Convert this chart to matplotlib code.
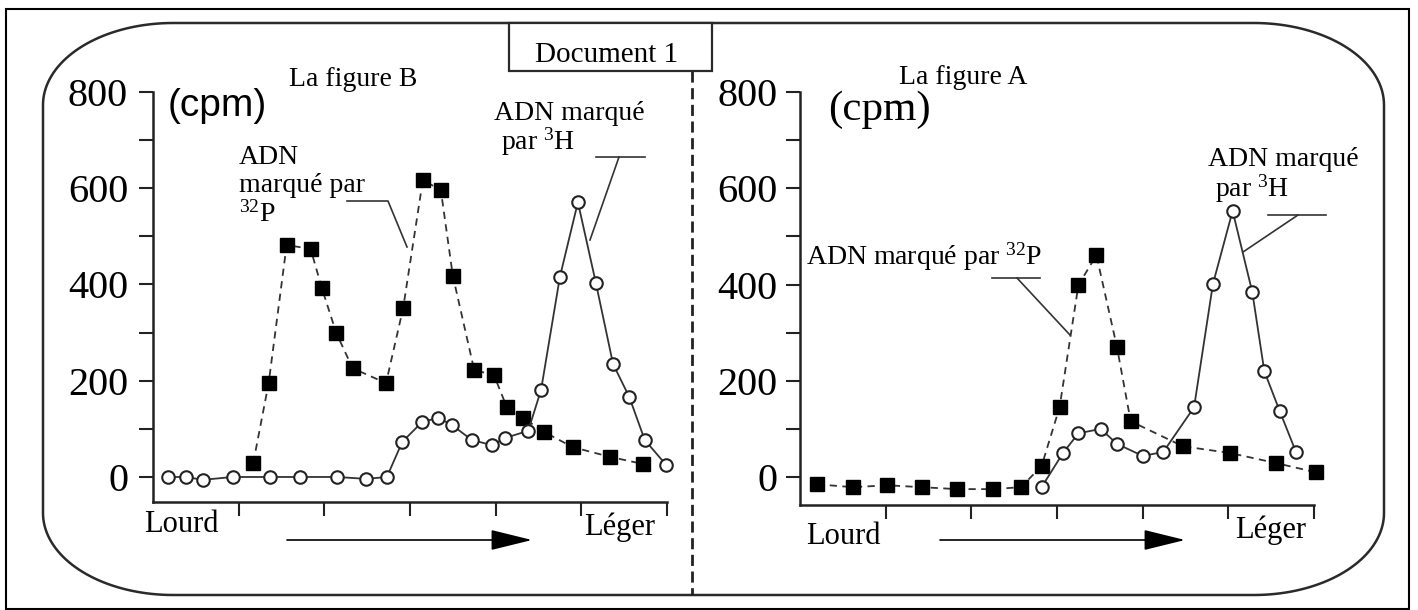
import numpy as np
import matplotlib

matplotlib.use("Agg")
import matplotlib.pyplot as plt
from matplotlib.patches import Rectangle, Polygon

W, H = 1418, 610
SERIF = "Liberation Serif"
SANS = "Liberation Sans"
INK = "#333333"
plt.rcParams["mathtext.fontset"] = "custom"
plt.rcParams["mathtext.rm"] = SERIF
plt.rcParams["mathtext.it"] = SERIF + ":italic"
plt.rcParams["mathtext.default"] = "rm"

# --- data (x: position along the gradient, y: cpm) ----------------------------------------------
b_h3_x = [0.18, 0.39, 0.58, 0.93, 1.37, 1.72, 2.15, 2.49, 2.73, 2.91, 3.14, 3.33, 3.49, 3.72, 3.96,
          4.11, 4.38, 4.53, 4.75, 4.96, 5.17, 5.37, 5.56, 5.74, 5.99]
b_h3_y = [0, 0, -6, 0, 0, 0, 0, -4, 0, 73, 114, 123, 108, 77, 66, 81, 96, 181, 416, 571, 403, 235,
          166, 77, 25]
b_p32_x = [1.17, 1.35, 1.56, 1.84, 1.97, 2.14, 2.33, 2.72, 2.92, 3.15, 3.36, 3.50, 3.75, 3.98, 4.13,
           4.32, 4.56, 4.90, 5.33, 5.72]
b_p32_y = [29, 195, 482, 474, 393, 299, 226, 195, 351, 617, 596, 418, 222, 212, 145, 123, 94, 62, 42, 27]

a_p32_x = [0.20, 0.62, 1.02, 1.42, 1.83, 2.25, 2.58, 2.82, 3.03, 3.25, 3.46, 3.70, 3.86, 4.47, 5.02,
           5.56, 6.02]
a_p32_y = [-15, -21, -17, -21, -25, -25, -21, 23, 145, 399, 461, 270, 116, 64, 50, 29, 10]
a_h3_x = [2.82, 3.07, 3.25, 3.51, 3.70, 4.00, 4.24, 4.60, 4.82, 5.05, 5.28, 5.42, 5.60, 5.79]
a_h3_y = [-21, 50, 91, 100, 69, 44, 52, 145, 401, 553, 384, 220, 137, 52]

y_labels = [0, 200, 400, 600, 800]

fig = plt.figure(figsize=(W / 100, H / 100), dpi=100)

# background overlay in pixel coordinates for the frame, captions and arrows
bg = fig.add_axes([0, 0, 1, 1])
bg.set_xlim(0, W)
bg.set_ylim(H, 0)
bg.axis("off")

bg.add_patch(Rectangle((6, 9), 1403, 600, fill=False, lw=1.5, ec="black"))


def rounded_box(x0, y0, x1, y1, rx, ry):
    t = np.linspace(0, np.pi / 2, 40)
    pts = []
    for cx, cy, a0 in [(x1 - rx, y0 + ry, -np.pi / 2), (x1 - rx, y1 - ry, 0),
                       (x0 + rx, y1 - ry, np.pi / 2), (x0 + rx, y0 + ry, np.pi)]:
        pts += list(zip(cx + rx * np.cos(a0 + t), cy + ry * np.sin(a0 + t)))
    return pts


bg.add_patch(Polygon(rounded_box(43, 23, 1384, 595, 130, 82), closed=True, fill=False,
                     ec="#2a2a2a", lw=1.8))

bg.add_patch(Rectangle((509, 23), 203, 48, fc="white", ec="#2a2a2a", lw=1.6, zorder=3))
bg.text(607, 55, "Document 1", family=SERIF, fontsize=21, ha="center", va="center", zorder=4)
bg.plot([692, 692], [71, 595], color="#222222", lw=2, dashes=(4, 2))

# captions
bg.text(289, 80, "La figure B", family=SERIF, fontsize=20, va="center")
bg.text(899, 77, "La figure A", family=SERIF, fontsize=20, va="center")
bg.text(168, 106, "(cpm)", family=SANS, fontsize=28, va="center")
bg.text(828, 110, "(cpm)", family=SERIF, fontsize=31, va="center")

bg.text(239, 158, "ADN", family=SERIF, fontsize=20, va="center")
bg.text(239, 186, "marqué par", family=SERIF, fontsize=20, va="center")
bg.text(239, 214, r"$^{32}$P", family=SERIF, fontsize=20, va="center")
bg.plot([347, 388, 407], [201, 201, 247], color=INK, lw=1.2)
bg.text(494, 113, "ADN marqué", family=SERIF, fontsize=20, va="center")
bg.text(501, 142, r"par $^{3}$H", family=SERIF, fontsize=20, va="center")
bg.plot([596, 645], [157, 157], color=INK, lw=1.2)
bg.plot([619, 590], [157, 240], color=INK, lw=1.2)

bg.text(806, 257, r"ADN marqué par $^{32}$P", family=SERIF, fontsize=20, va="center")
bg.plot([992, 1040], [278, 278], color=INK, lw=1.2)
bg.plot([1017, 1070], [278, 335], color=INK, lw=1.2)
bg.text(1208, 160, "ADN marqué", family=SERIF, fontsize=20, va="center")
bg.text(1215, 189, r"par $^{3}$H", family=SERIF, fontsize=20, va="center")
bg.plot([1268, 1326], [215, 215], color=INK, lw=1.2)
bg.plot([1298, 1243], [215, 252], color=INK, lw=1.2)

for x, y, s in [(144, 525, "Lourd"), (584, 527, "Léger"), (806, 536, "Lourd"), (1235, 530, "Léger")]:
    bg.text(x, y, s, family=SERIF, fontsize=22, va="center")

for x0, x1 in [(287, 532), (940, 1185)]:
    bg.annotate("", xy=(x1, 540), xytext=(x0, 540),
                arrowprops=dict(arrowstyle="-|>,head_length=1.3,head_width=0.32", mutation_scale=20,
                                lw=1.2, color="black", shrinkA=0, shrinkB=0))


def px_axes(x0, y_top, x1, y_bot):
    return fig.add_axes([x0 / W, (H - y_bot) / H, (x1 - x0) / W, (y_bot - y_top) / H])


def style(ax, ymin, pad):
    ax.set_facecolor("none")
    ax.set_xlim(0, 6)
    ax.set_ylim(ymin, 800)
    for s in ("top", "right"):
        ax.spines[s].set_visible(False)
    for s in ("left", "bottom"):
        ax.spines[s].set_linewidth(1.8)
        ax.spines[s].set_color("#222222")
    ax.set_xticks([1, 2, 3, 4, 5, 6])
    ax.set_xticklabels([])
    ax.set_yticks(y_labels)
    ax.set_yticklabels([str(v) for v in y_labels], family=SERIF, fontsize=29)
    ax.set_yticks([100, 300, 500, 700], minor=True)
    ax.tick_params(which="both", direction="out", length=10, width=1.5, color="#222222")
    ax.tick_params(axis="y", pad=pad)


def plot_pair(ax, sx, sy, cx, cy):
    ax.plot(sx, sy, color=INK, lw=1.3, dashes=(4, 3), marker="s", ms=10, mfc="black", mec="black",
            clip_on=False, zorder=3)
    ax.plot(cx, cy, color=INK, lw=1.3, marker="o", ms=9, mfc="white", mec="#222222", mew=1.5,
            clip_on=False, zorder=4)


axB = px_axes(153, 92, 667, 502)
style(axB, -52, 8)
plot_pair(axB, b_p32_x, b_p32_y, b_h3_x, b_h3_y)

axA = px_axes(800, 92, 1314, 505)
style(axA, -58, 6)
plot_pair(axA, a_p32_x, a_p32_y, a_h3_x, a_h3_y)

fig.savefig("out.png", dpi=100, facecolor="white")
